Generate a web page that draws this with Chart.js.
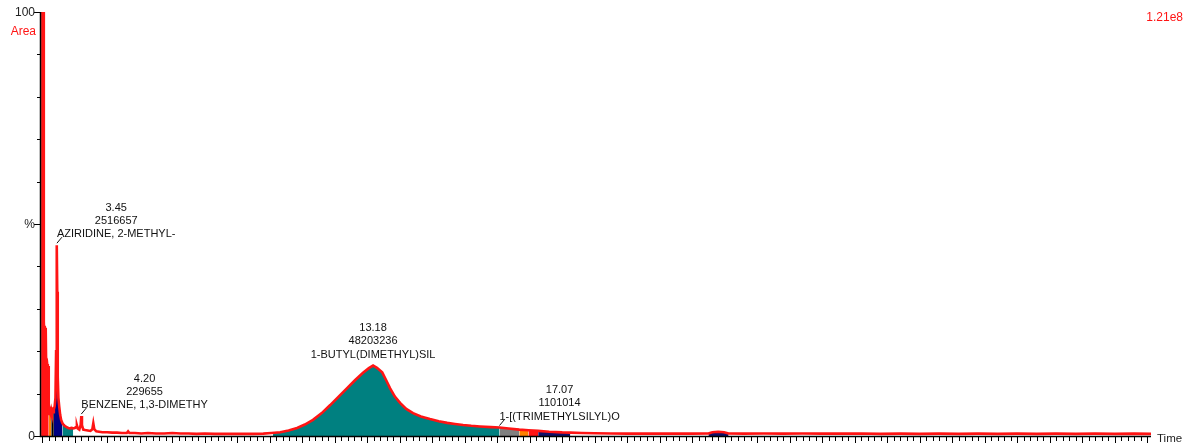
<!DOCTYPE html>
<html>
<head>
<meta charset="utf-8">
<script src="https://cdn.jsdelivr.net/npm/chart.js@4/dist/chart.umd.min.js"></script>
<style>
  html, body { margin: 0; padding: 0; background: #fff; }
  canvas { display: block; }
</style>
</head>
<body>
<canvas id="tic" width="1186" height="445"></canvas>
<script>
// Total ion chromatogram: retention time (min) against relative abundance (%)
const traceTime = [
  2.962, 3.040, 3.046, 3.060, 3.075, 3.090, 3.105, 3.116, 3.130, 3.150, 3.170, 3.190,
  3.198, 3.215, 3.235, 3.255, 3.275, 3.295, 3.315, 3.335, 3.355, 3.380, 3.405, 3.425,
  3.440, 3.450, 3.460, 3.475, 3.495, 3.520, 3.550, 3.580, 3.620, 3.660, 3.700, 3.750,
  3.800, 3.850, 3.900, 3.950, 4.000, 4.040, 4.065, 4.090, 4.140, 4.180, 4.200, 4.220,
  4.260, 4.320, 4.400, 4.480, 4.540, 4.570, 4.600, 4.660, 4.750, 4.850, 5.000, 5.150,
  5.300, 5.450, 5.600, 5.640, 5.680, 5.850, 6.050, 6.250, 6.500, 6.750, 7.000, 7.250,
  7.500, 7.750, 8.000, 8.300, 8.600, 8.900, 9.200, 9.500, 9.800, 10.05, 10.32, 10.58,
  10.84, 11.08, 11.33, 11.60, 11.86, 12.12, 12.38, 12.63, 12.87, 13.05, 13.18, 13.30,
  13.46, 13.58, 13.70, 13.85, 14.01, 14.20, 14.41, 14.65, 14.93, 15.20, 15.46, 15.70,
  15.95, 16.20, 16.47, 16.80, 17.07, 17.35, 17.68, 17.96, 18.26, 18.60, 19.00, 19.25,
  19.60, 20.00, 20.50, 21.00, 21.50, 22.00, 22.50, 23.00, 23.50, 23.62, 23.80, 23.98,
  24.12, 24.60, 25.20, 25.80, 26.40, 27.00, 27.60, 28.20, 28.80, 29.40, 30.00, 30.60,
  31.20, 31.80, 32.40, 33.00, 33.60, 34.20, 34.80, 35.40, 36.00, 36.60, 37.12
];
const traceValue = [
  100, 100, 27, 24, 26, 23, 25.5, 18, 16.5, 17, 15.5, 16.5,
  6.5, 5.2, 6.0, 5.4, 6.2, 5.5, 6.0, 5.6, 6.3, 7.0, 9.0, 20,
  38, 45, 34, 14, 9.0, 7.0, 5.0, 3.8, 3.0, 2.6, 2.3, 2.1,
  1.9, 1.8, 1.9, 1.8, 1.9, 2.1, 2.5, 1.8, 1.5, 2.6, 4.7, 2.6,
  1.5, 1.4, 1.3, 1.2, 1.6, 3.0, 1.6, 1.1, 1.0, 0.9, 0.9, 0.8,
  0.8, 0.7, 0.7, 1.1, 0.7, 0.7, 0.6, 0.7, 0.6, 0.6, 0.7, 0.6,
  0.6, 0.5, 0.6, 0.5, 0.5, 0.5, 0.5, 0.5, 0.55, 0.7, 0.9, 1.3,
  1.9, 2.7, 3.8, 5.4, 7.3, 9.3, 11.3, 13.2, 14.9, 16.0, 16.6, 16.1,
  15.0, 13.2, 11.3, 9.3, 7.8, 6.4, 5.4, 4.6, 4.0, 3.5, 3.1, 2.85,
  2.6, 2.4, 2.25, 2.1, 2.0, 1.75, 1.5, 1.35, 1.2, 1.0, 0.85, 0.8,
  0.7, 0.65, 0.6, 0.55, 0.6, 0.55, 0.6, 0.55, 0.6, 0.9, 1.0, 0.9,
  0.6, 0.55, 0.6, 0.55, 0.6, 0.55, 0.55, 0.6, 0.5, 0.55, 0.5, 0.55,
  0.5, 0.55, 0.5, 0.55, 0.5, 0.55, 0.5, 0.55, 0.5, 0.55, 0.5
];

// Integration windows (min) shaded under the trace
const windowStart = [2.962, 3.198, 3.275, 3.355, 3.620, 10.10, 17.07, 17.68, 17.96, 18.26, 23.50];
const windowEnd   = [3.198, 3.275, 3.355, 3.620, 3.950, 17.07, 17.68, 17.96, 18.26, 19.25, 24.12];

// Identified peaks
const peakTime = [3.45, 4.20, 13.18, 17.07];
const peakArea = [2516657, 229655, 48203236, 1101014];
const peakName = ["AZIRIDINE, 2-METHYL-", "BENZENE, 1,3-DIMETHY", "1-BUTYL(DIMETHYL)SIL", "1-[(TRIMETHYLSILYL)O"];

// Axis range and labels
const timeMin = 2.96, timeMax = 37.12;
const yTickValues = [0, 10, 20, 30, 40, 50, 60, 70, 80, 90, 100];
const yTickLabels = { 0: "0", 50: "%", 100: "100" };
const fullScale = "1.21e8";
const yTitle = "Area";
const xTitle = "Time";

// ---- styling ----
const TRACE_RED = "#ff1414";
const windowColor = ["#ff1414", "#ff8000", "#000000", "#000080", "#008080", "#008080",
                     "#808080", "#ff8000", "#ff1414", "#10106a", "#10106a"];
const labelSide = ["left", "left", "center", "left"];
const FONT = "'Liberation Sans', Arial, Helvetica, sans-serif";

function valueAt(t) {
  for (let i = 1; i < traceTime.length; i++) {
    if (t <= traceTime[i]) {
      const t0 = traceTime[i - 1], t1 = traceTime[i];
      const f = (t - t0) / (t1 - t0);
      return traceValue[i - 1] + f * (traceValue[i] - traceValue[i - 1]);
    }
  }
  return traceValue[traceValue.length - 1];
}

const tracePoints = traceTime.map((t, i) => ({ x: t, y: traceValue[i] }));

const fillSets = windowStart.map((s, k) => {
  const e = windowEnd[k];
  const pts = [{ x: s, y: valueAt(s) }];
  traceTime.forEach((t, i) => { if (t > s && t < e) pts.push({ x: t, y: traceValue[i] }); });
  pts.push({ x: e, y: valueAt(e) });
  return {
    data: pts,
    borderWidth: 0,
    borderColor: "rgba(0,0,0,0)",
    backgroundColor: windowColor[k],
    fill: "origin",
    pointRadius: 0,
    order: 2
  };
});

const axisPlugin = {
  id: "ticAxes",
  afterDatasetsDraw(chart) {
    const { ctx, chartArea: a, scales: { x, y } } = chart;
    ctx.save();

    // axis lines
    ctx.strokeStyle = "#000";
    ctx.lineWidth = 1.5;
    ctx.beginPath();
    ctx.moveTo(a.left - 0.5, a.top);
    ctx.lineTo(a.left - 0.5, a.bottom + 0.5);
    ctx.lineTo(a.right, a.bottom + 0.5);
    ctx.stroke();

    // y ticks
    ctx.lineWidth = 1;
    yTickValues.forEach(v => {
      const py = Math.round(y.getPixelForValue(v)) + 0.5;
      const len = (v % 50 === 0) ? 6 : 3;
      ctx.beginPath();
      ctx.moveTo(a.left - 1, py);
      ctx.lineTo(a.left - 1 - len, py);
      ctx.stroke();
    });

    // x ticks: minor every 0.2 min, major every minute
    for (let k = Math.ceil(timeMin * 5); k <= Math.floor(timeMax * 5); k++) {
      const px = Math.round(x.getPixelForValue(k / 5)) + 0.5;
      const len = (k % 5 === 0) ? 6 : 4;
      ctx.beginPath();
      ctx.moveTo(px, a.bottom + 1);
      ctx.lineTo(px, a.bottom + 1 + len);
      ctx.stroke();
    }

    // y labels
    ctx.font = "12px " + FONT;
    ctx.fillStyle = "#222";
    ctx.textAlign = "right";
    ctx.textBaseline = "middle";
    Object.keys(yTickLabels).forEach(v => {
      ctx.fillText(yTickLabels[v], a.left - 6, y.getPixelForValue(Number(v)) + 1);
    });
    ctx.fillStyle = TRACE_RED;
    ctx.fillText(yTitle, a.left - 5, a.top + 20);

    ctx.textAlign = "right";
    ctx.fillText(fullScale, 1183, 18);

    ctx.fillStyle = "#222";
    ctx.textAlign = "left";
    ctx.font = "11.5px " + FONT;
    ctx.fillText(xTitle, a.right + 6, a.bottom + 3);

    // peak annotations
    ctx.font = "11px " + FONT;
    ctx.textBaseline = "middle";
    ctx.textAlign = "center";
    peakTime.forEach((t, i) => {
      const px = x.getPixelForValue(t);
      const py = y.getPixelForValue(valueAt(t)) - 1;
      const lines = [t.toFixed(2), String(peakArea[i]), peakName[i]];
      const w = Math.max(...lines.map(s => ctx.measureText(s).width));
      let cx = px;
      if (labelSide[i] === "left") {
        cx = px + w / 2;
        ctx.strokeStyle = "#111";
        ctx.lineWidth = 1;
        ctx.beginPath();
        ctx.moveTo(px, py - 1);
        ctx.lineTo(px + 5, py - 7);
        ctx.stroke();
      }
      const baseY = py - 10;
      ctx.fillStyle = "#111";
      lines.forEach((s, j) => {
        ctx.fillText(s, cx, baseY - (2 - j) * 13.3);
      });
    });

    ctx.restore();
  }
};

new Chart(document.getElementById("tic"), {
  type: "line",
  data: {
    datasets: [
      {
        data: tracePoints,
        borderColor: TRACE_RED,
        borderWidth: 2.6,
        fill: false,
        pointRadius: 0,
        order: 0
      },
      ...fillSets
    ]
  },
  options: {
    responsive: false,
    animation: false,
    layout: { padding: { left: 41, top: 12, right: 35, bottom: 9 } },
    plugins: { legend: { display: false }, tooltip: { enabled: false } },
    elements: { line: { tension: 0 } },
    scales: {
      x: { type: "linear", min: timeMin, max: timeMax, display: false },
      y: { type: "linear", min: 0, max: 100, display: false }
    }
  },
  plugins: [axisPlugin]
});
</script>
</body>
</html>
